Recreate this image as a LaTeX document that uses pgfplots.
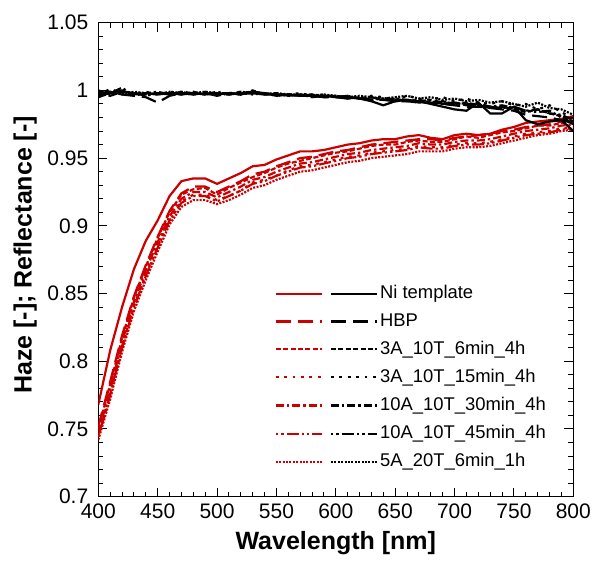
\documentclass[border=0pt]{standalone}
\usepackage{fontspec}
\setmainfont{Liberation Sans}
\usepackage{pgfplots}
\usepackage{pgfplotstable}
\pgfplotsset{compat=1.18}
\definecolor{hred}{RGB}{204,0,0}

% line styles for the seven samples
\tikzset{
  s ni/.style={solid},
  s hbp/.style={dash pattern=on 7.5pt off 3.5pt},
  s a6/.style={dash pattern=on 2.5pt off 1.2pt},
  s a15/.style={dash pattern=on 1.4pt off 2.8pt},
  s b30/.style={dash pattern=on 4pt off 1.5pt on 1.2pt off 1.5pt},
  s b45/.style={dash pattern=on 1.2pt off 1.5pt on 1.2pt off 1.5pt on 6pt off 1.5pt},
  s c6/.style={dash pattern=on 1pt off 0.7pt},
}

% red = haze, black = reflectance
\pgfplotstableread{
wl ni hbp a6 a15 b30 b45 c6
400 0.768 0.752 0.750 0.745 0.747 0.744 0.742
410 0.808 0.785 0.783 0.776 0.779 0.775 0.772
420 0.840 0.819 0.817 0.811 0.814 0.810 0.807
430 0.868 0.848 0.847 0.841 0.844 0.840 0.837
440 0.889 0.871 0.870 0.864 0.867 0.863 0.860
450 0.904 0.892 0.891 0.885 0.888 0.884 0.881
460 0.922 0.911 0.910 0.904 0.907 0.904 0.901
470 0.933 0.924 0.923 0.918 0.920 0.917 0.914
480 0.935 0.929 0.927 0.923 0.925 0.922 0.919
490 0.935 0.929 0.928 0.923 0.925 0.922 0.919
500 0.931 0.925 0.923 0.919 0.921 0.918 0.916
510 0.935 0.929 0.928 0.922 0.925 0.922 0.919
520 0.939 0.933 0.932 0.926 0.929 0.926 0.923
530 0.944 0.938 0.936 0.932 0.934 0.931 0.928
540 0.945 0.940 0.939 0.934 0.936 0.933 0.930
550 0.949 0.944 0.943 0.937 0.940 0.937 0.934
560 0.952 0.947 0.946 0.941 0.943 0.940 0.937
570 0.955 0.950 0.948 0.944 0.946 0.943 0.940
580 0.955 0.951 0.950 0.945 0.947 0.944 0.941
590 0.956 0.953 0.952 0.947 0.949 0.946 0.943
600 0.958 0.955 0.954 0.949 0.951 0.948 0.945
610 0.960 0.956 0.955 0.951 0.953 0.950 0.947
620 0.961 0.958 0.957 0.952 0.954 0.951 0.948
630 0.963 0.960 0.959 0.954 0.956 0.953 0.950
640 0.964 0.961 0.960 0.955 0.957 0.954 0.951
650 0.964 0.962 0.960 0.956 0.958 0.955 0.952
660 0.966 0.963 0.962 0.957 0.959 0.956 0.953
670 0.967 0.964 0.963 0.959 0.961 0.958 0.955
680 0.965 0.964 0.962 0.958 0.960 0.957 0.955
690 0.964 0.963 0.962 0.958 0.960 0.957 0.955
700 0.967 0.965 0.964 0.960 0.962 0.959 0.957
710 0.968 0.966 0.966 0.961 0.963 0.960 0.958
720 0.967 0.967 0.965 0.961 0.963 0.960 0.958
730 0.968 0.968 0.967 0.962 0.964 0.961 0.959
740 0.971 0.970 0.969 0.964 0.966 0.963 0.961
750 0.973 0.971 0.970 0.966 0.968 0.965 0.963
760 0.976 0.973 0.972 0.968 0.970 0.967 0.965
770 0.977 0.974 0.974 0.969 0.971 0.968 0.967
780 0.978 0.975 0.974 0.970 0.972 0.969 0.968
790 0.979 0.977 0.976 0.972 0.974 0.971 0.970
800 0.981 0.978 0.977 0.973 0.975 0.972 0.971
}\haze

\pgfplotstableread{
wl ni hbp a6 a15 b30 b45 c6
400 0.996 0.998 1.000 0.997 0.995 0.999 0.998
410 0.998 0.999 0.997 1.001 0.998 0.996 0.999
420 1.000 0.997 0.999 0.998 1.002 0.999 0.997
430 0.997 0.996 0.998 0.997 0.996 0.998 0.999
440 0.998 0.995 0.997 0.999 0.998 0.996 0.998
450 0.997 0.991 0.998 0.997 0.999 0.998 0.997
460 0.998 0.996 0.998 0.999 0.997 0.997 0.999
470 0.997 0.998 0.997 0.998 0.999 0.999 0.998
480 0.998 0.997 0.999 0.997 0.998 0.997 0.998
490 0.997 0.998 0.997 0.999 0.997 0.998 0.999
500 0.998 0.997 0.998 0.997 0.999 0.996 0.998
510 0.997 0.998 0.998 0.998 0.997 0.998 0.997
520 0.998 0.997 0.997 0.999 0.998 0.997 0.999
530 0.999 0.998 1.000 0.998 0.997 0.999 0.998
540 0.998 0.997 0.997 0.998 0.998 0.997 0.997
550 0.997 0.997 0.997 0.996 0.996 0.998 0.998
560 0.997 0.996 0.997 0.997 0.997 0.996 0.997
570 0.996 0.997 0.996 0.998 0.996 0.997 0.997
580 0.996 0.996 0.997 0.996 0.997 0.995 0.996
590 0.996 0.995 0.995 0.997 0.996 0.996 0.997
600 0.995 0.995 0.996 0.995 0.995 0.996 0.996
610 0.995 0.994 0.995 0.996 0.996 0.994 0.995
620 0.994 0.994 0.994 0.994 0.994 0.995 0.996
630 0.992 0.993 0.995 0.996 0.995 0.993 0.995
640 0.989 0.993 0.993 0.995 0.993 0.994 0.994
650 0.992 0.992 0.994 0.993 0.994 0.992 0.995
660 0.993 0.992 0.992 0.996 0.993 0.993 0.996
670 0.992 0.991 0.993 0.994 0.992 0.991 0.994
680 0.990 0.991 0.991 0.993 0.993 0.992 0.995
690 0.988 0.990 0.992 0.995 0.991 0.990 0.993
700 0.986 0.989 0.990 0.992 0.991 0.991 0.994
710 0.985 0.988 0.991 0.994 0.990 0.989 0.992
720 0.991 0.988 0.989 0.991 0.990 0.990 0.993
730 0.983 0.987 0.987 0.990 0.988 0.988 0.991
740 0.983 0.986 0.988 0.992 0.989 0.987 0.992
750 0.988 0.985 0.986 0.989 0.987 0.988 0.990
760 0.978 0.982 0.984 0.990 0.985 0.985 0.988
770 0.975 0.981 0.986 0.986 0.986 0.984 0.991
780 0.977 0.980 0.983 0.989 0.983 0.985 0.987
790 0.978 0.978 0.981 0.984 0.982 0.980 0.986
800 0.970 0.976 0.977 0.979 0.978 0.975 0.982
}\refl

\begin{document}
\begin{tikzpicture}
\begin{axis}[
    scale only axis,
    width=237.5pt, height=237pt,
    xmin=400, xmax=800,
    ymin=0.7, ymax=1.05,
    xtick={400,450,500,550,600,650,700,750,800},
    ytick={0.7,0.75,0.8,0.85,0.9,0.95,1,1.05},
    minor x tick num=4,
    minor y tick num=4,
    tick align=inside,
    major tick length=4.5pt,
    minor tick length=2.5pt,
    axis line style={line width=0.7pt},
    every tick/.style={black, line width=0.5pt},
    ticklabel style={font=\fontsize{10.5}{12}\selectfont},
    yticklabel style={xshift=-1.5pt},
    /pgf/number format/assume math mode=true,
    yticklabel style={/pgf/number format/fixed, /pgf/number format/precision=2},
    xticklabel style={/pgf/number format/set thousands separator={}},
    xlabel={Wavelength [nm]},
    ylabel={Haze [-]; Reflectance [-]},
    label style={font=\bfseries\fontsize{12.5}{15}\selectfont},
    xlabel style={at={(axis description cs:0.5,0)}, anchor=center, yshift=-23pt},
    ylabel style={at={(axis description cs:-0.154,0.51)}, anchor=center},
    every axis plot/.append style={line width=1.1pt},
    legend image code/.code={\draw[#1] (0pt,0pt) -- (23pt,0pt);},
    legend cell align=left,
    legend style={draw=none, fill=none, font=\fontsize{9.2}{10.5}\selectfont,
        at={(axis description cs:0.358,0.457)}, anchor=north west,
        legend columns=2, row sep=4.9pt,
        nodes={inner xsep=1pt, inner ysep=0.5pt},
        /tikz/every even column/.append style={column sep=1.5pt}},
]
% haze curves
\addplot[hred, s ni, forget plot] table[x=wl, y=ni] {\haze};
\addplot[hred, s hbp, forget plot] table[x=wl, y=hbp] {\haze};
\addplot[hred, s a6, forget plot] table[x=wl, y=a6] {\haze};
\addplot[hred, s a15, forget plot] table[x=wl, y=a15] {\haze};
\addplot[hred, s b30, forget plot] table[x=wl, y=b30] {\haze};
\addplot[hred, s b45, forget plot] table[x=wl, y=b45] {\haze};
\addplot[hred, s c6, forget plot] table[x=wl, y=c6] {\haze};
% reflectance curves
\addplot[black, s ni, forget plot] table[x=wl, y=ni] {\refl};
\addplot[black, s hbp, forget plot] table[x=wl, y=hbp] {\refl};
\addplot[black, s a6, forget plot] table[x=wl, y=a6] {\refl};
\addplot[black, s a15, forget plot] table[x=wl, y=a15] {\refl};
\addplot[black, s b30, forget plot] table[x=wl, y=b30] {\refl};
\addplot[black, s b45, forget plot] table[x=wl, y=b45] {\refl};
\addplot[black, s c6, forget plot] table[x=wl, y=c6] {\refl};

% legend: red sample, black sample, name
\addlegendimage{hred, s ni}\addlegendentry{\hbox{}}
\addlegendimage{black, s ni}\addlegendentry{Ni template}
\addlegendimage{hred, s hbp}\addlegendentry{\hbox{}}
\addlegendimage{black, s hbp}\addlegendentry{HBP}
\addlegendimage{hred, s a6}\addlegendentry{\hbox{}}
\addlegendimage{black, s a6}\addlegendentry{3A\_10T\_6min\_4h}
\addlegendimage{hred, s a15}\addlegendentry{\hbox{}}
\addlegendimage{black, s a15}\addlegendentry{3A\_10T\_15min\_4h}
\addlegendimage{hred, s b30}\addlegendentry{\hbox{}}
\addlegendimage{black, s b30}\addlegendentry{10A\_10T\_30min\_4h}
\addlegendimage{hred, s b45}\addlegendentry{\hbox{}}
\addlegendimage{black, s b45}\addlegendentry{10A\_10T\_45min\_4h}
\addlegendimage{hred, s c6}\addlegendentry{\hbox{}}
\addlegendimage{black, s c6}\addlegendentry{5A\_20T\_6min\_1h}
\end{axis}
\pgfresetboundingbox
\useasboundingbox (-49.15pt,-32.65pt) rectangle (246.85pt,248.35pt);
\end{tikzpicture}
\end{document}
